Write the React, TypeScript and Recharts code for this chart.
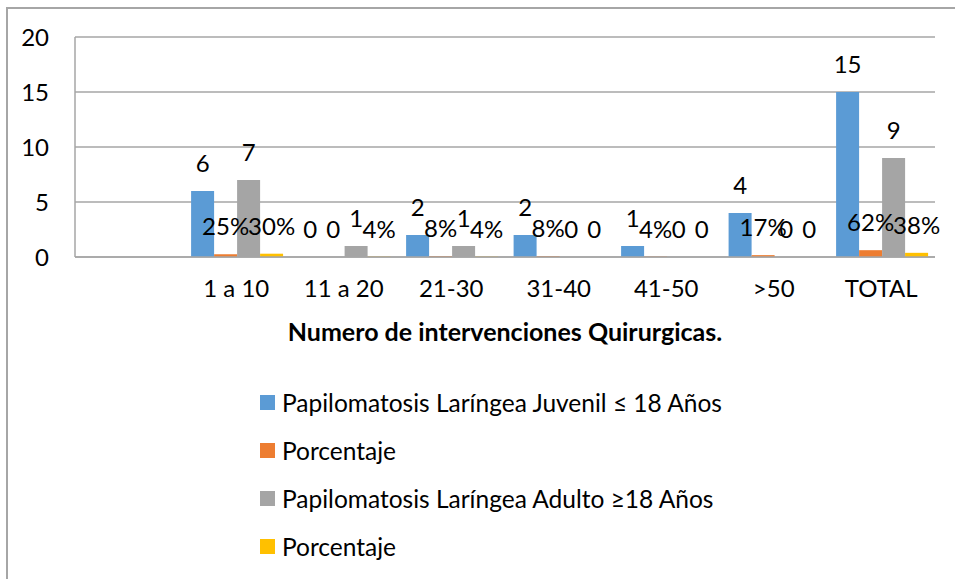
import React from 'react';
import { BarChart, Bar, XAxis, YAxis, CartesianGrid, LabelList } from 'recharts';

const categories = ['', '1 a 10', '11 a 20', '21-30', '31-40', '41-50', '>50', 'TOTAL'];
const juvenil = [null, 6, 0, 2, 2, 1, 4, 15];
const juvenilPct = [null, 0.25, 0, 0.08, 0.08, 0.04, 0.17, 0.62];
const adulto = [null, 7, 1, 1, 0, 0, 0, 9];
const adultoPct = [null, 0.3, 0.04, 0.04, 0, 0, 0, 0.38];
const yTicks = [0, 5, 10, 15, 20];
const seriesKeys = ['juvenil', 'juvenilPct', 'adulto', 'adultoPct'];
const seriesNames = [
  'Papilomatosis Laríngea Juvenil ≤ 18 Años',
  'Porcentaje',
  'Papilomatosis Laríngea Adulto ≥18 Años',
  'Porcentaje',
];
const seriesColors = ['#5B9BD5', '#ED7D31', '#A5A5A5', '#FFC000'];
const seriesIsPct = [false, true, false, true];
const axisTitle = 'Numero de intervenciones Quirurgicas.';

const data = categories.map((c, i) => ({
  name: c,
  juvenil: juvenil[i],
  juvenilPct: juvenilPct[i],
  adulto: adulto[i],
  adultoPct: adultoPct[i],
}));

const FONT = 'Lato';
const FS = 24;

const makeLabel = (isPct: boolean) => (props: any) => {
  const { x, y, width, value } = props;
  if (value === null || value === undefined) return null;
  const txt = isPct ? (value === 0 ? '0' : Math.round(value * 100) + '%') : String(value);
  return (
    <text
      x={Number(x) + Number(width) / 2}
      y={Number(y) - 19}
      textAnchor="middle"
      fontSize={FS}
      fontFamily={FONT}
      fill="#000"
    >
      {txt}
    </text>
  );
};

export default function App() {
  return (
    <div
      style={{
        position: 'absolute',
        left: 0,
        top: 0,
        width: 955,
        height: 579,
        overflow: 'hidden',
        background: '#fff',
      }}
    >
      <div
        style={{
          position: 'absolute',
          left: 6,
          top: 7,
          width: 1200,
          height: 1200,
          border: '2px solid #a6a6a6',
        }}
      />
      <div style={{ position: 'absolute', left: 0, top: 0 }}>
        <BarChart
          width={955}
          height={579}
          data={data}
          margin={{ top: 37, right: 20, left: 0, bottom: 238 }}
          barCategoryGap="8%"
          barGap={0}
        >
          <CartesianGrid vertical={false} stroke="#a6a6a6" strokeWidth={1.5} />
          <XAxis
            dataKey="name"
            height={84}
            tickLine={false}
            tickSize={0}
            tickMargin={23}
            axisLine={{ stroke: '#a6a6a6', strokeWidth: 1.5 }}
            tick={{ fontSize: FS, fontFamily: FONT, fill: '#000' }}
            interval={0}
            label={{
              value: axisTitle,
              position: 'insideBottom',
              offset: 0,
              style: { fontSize: 25, fontFamily: FONT, fontWeight: 'bold', fill: '#000' },
            }}
          />
          <YAxis
            width={75}
            domain={[0, 20]}
            ticks={yTicks}
            tickLine={false}
            tickSize={0}
            tickMargin={26}
            axisLine={{ stroke: '#a6a6a6', strokeWidth: 1.5 }}
            tick={{ fontSize: FS, fontFamily: FONT, fill: '#000' }}
          />
          {seriesKeys.map((k, i) => (
            <Bar key={k} dataKey={k} fill={seriesColors[i]} minPointSize={0.01} isAnimationActive={false}>
              <LabelList dataKey={k} content={makeLabel(seriesIsPct[i])} />
            </Bar>
          ))}
        </BarChart>
      </div>
      <div style={{ position: 'absolute', left: 260, top: 378, fontFamily: FONT, fontSize: 24.5, color: '#000' }}>
        {seriesNames.map((n, i) => (
          <div key={i} style={{ display: 'flex', alignItems: 'center', height: 48, whiteSpace: 'nowrap' }}>
            <span style={{ display: 'inline-block', width: 15, height: 15, background: seriesColors[i], marginRight: 7 }} />
            <span>{n}</span>
          </div>
        ))}
      </div>
    </div>
  );
}
